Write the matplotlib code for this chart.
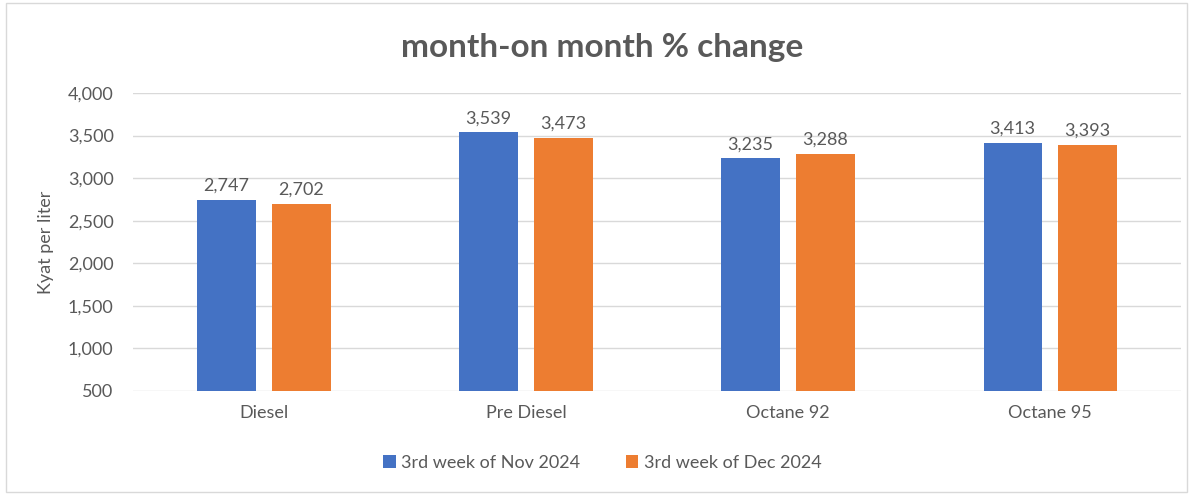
import numpy as np
import matplotlib
matplotlib.use("Agg")
import matplotlib.pyplot as plt
from matplotlib.patches import Rectangle

# data
categories = ["Diesel", "Pre Diesel", "Octane 92", "Octane 95"]
nov_2024 = [2747, 3539, 3235, 3413]
dec_2024 = [2702, 3473, 3288, 3393]
series_names = ["3rd week of Nov 2024", "3rd week of Dec 2024"]
yticks = [500, 1000, 1500, 2000, 2500, 3000, 3500, 4000]

plt.rcParams['font.family'] = ['Lato', 'DejaVu Sans']
txt = '#595959'

fig = plt.figure(figsize=(11.93, 4.96), dpi=100)
ax = fig.add_axes([0.1115, 0.2117, 0.8785, 0.6008])

# light border round the whole chart
fig.patches.append(Rectangle((0.005, 0.008), 0.99, 0.985, transform=fig.transFigure,
                             fill=False, edgecolor='#d9d9d9', lw=1))

x = np.arange(len(categories))
w = 0.222
b1 = ax.bar(x - 0.143, np.array(nov_2024) - 500, w, bottom=500, color='#4472C4', label=series_names[0])
b2 = ax.bar(x + 0.143, np.array(dec_2024) - 500, w, bottom=500, color='#ED7D31', label=series_names[1])

for bars, vals in ((b1, nov_2024), (b2, dec_2024)):
    for r, v in zip(bars, vals):
        ax.text(r.get_x() + r.get_width() / 2, v + 70, f"{v:,}", ha='center', va='bottom',
                fontsize=13, color=txt)

ax.set_xlim(-0.5, len(categories) - 0.5)
ax.set_ylim(500, 4000)
ax.set_yticks(yticks)
ax.set_yticklabels([f"{t:,}" for t in yticks])
ax.set_xticks(x)
ax.set_xticklabels(categories)
ax.tick_params(axis='both', length=0, labelsize=13, colors=txt)
ax.tick_params(axis='y', pad=14)
ax.tick_params(axis='x', pad=10)
ax.yaxis.grid(True, color='#d9d9d9', lw=1)
ax.set_axisbelow(True)
for s in ax.spines.values():
    s.set_visible(False)

ax.set_ylabel('Kyat per liter', fontsize=13, color=txt, labelpad=10)
fig.text(0.505, 0.905, 'month-on month % change', ha='center', va='center',
         fontsize=24, fontweight='bold', color=txt)

fig.legend(handles=[b1, b2], loc='center', bbox_to_anchor=(0.505, 0.067), ncol=2, frameon=False,
           fontsize=13, handlelength=0.7, handleheight=0.7, handletextpad=0.3, columnspacing=2.5,
           labelcolor=txt)

fig.savefig('out.png', dpi=100)
